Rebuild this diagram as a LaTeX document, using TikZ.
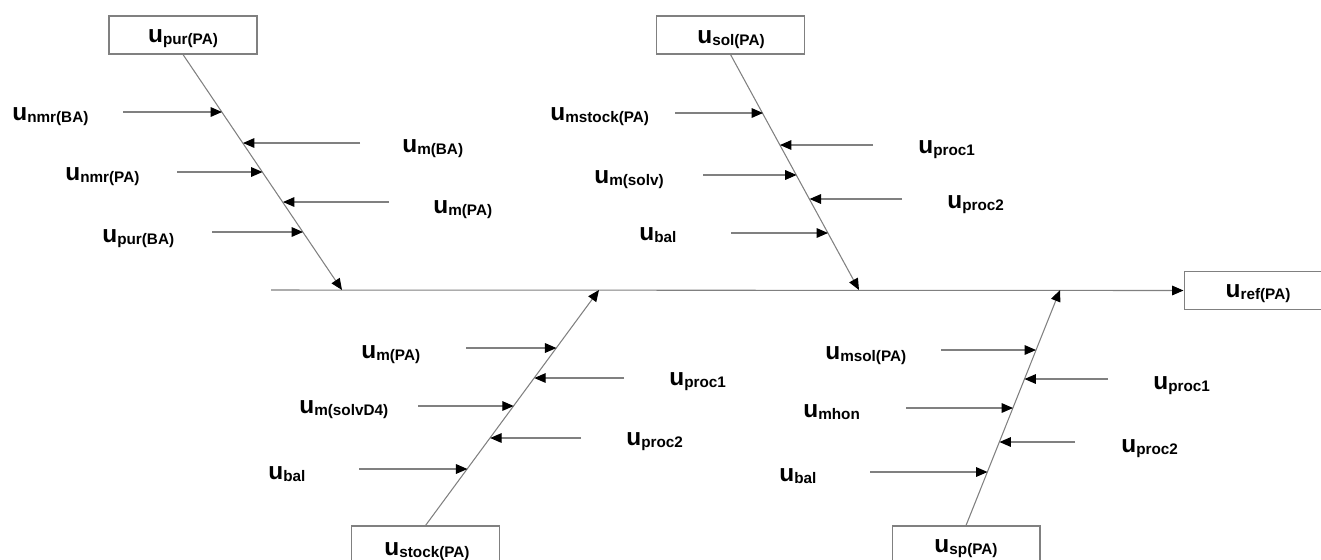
\documentclass[tikz,border=0pt]{standalone}
\usepackage{fontspec}
\setmainfont{Liberation Sans}
\usetikzlibrary{arrows.meta,calc}
\newcommand\ulab[1]{{\fontsize{13.9pt}{14pt}\selectfont u}\raisebox{-1.5pt}{\fontsize{8.7pt}{9pt}\selectfont #1}}
\begin{document}
\begin{tikzpicture}[x=0.02cm,y=-0.02cm,
  line/.style={draw=black!50, line width=0.6pt},
  arr/.style={line, -{Triangle[length=6.5pt,width=5.5pt,color=black]}},
  box/.style={draw=black!50, line width=0.6pt, minimum width=2.96cm, minimum height=0.76cm, inner sep=0pt},
  lab/.style={anchor=base west, inner sep=0pt, font=\bfseries},
  blab/.style={anchor=base, inner sep=0pt, font=\bfseries}]
\useasboundingbox (0,0) rectangle (1321,559);
\clip (0,0) rectangle (1321,559);

% boxes
\node[box] (upur) at (183,35) {};
\node[box] (usol) at (730.5,35) {};
\node[box] (ustock) at (425.5,545) {};
\node[box] (usp) at (966,545) {};
\node[box] (uref) at (1258,290.5) {};
\node[blab] (tupur) at (183,42) {\ulab{pur(PA)}};
\node[blab] (tusol) at (731,43) {\ulab{sol(PA)}};
\node[blab] (tustock) at (427,555) {\ulab{stock(PA)}};
\node[blab] (tusp) at (966,552) {\ulab{sp(PA)}};
\node[blab] (turef) at (1258,297) {\ulab{ref(PA)}};

% spine
\coordinate (s0) at (271,290);
\coordinate (b1) at (342,290);
\coordinate (b2) at (859,290);
\coordinate (b3) at (599,290);
\coordinate (b4) at (1060,290);
\draw[arr] (s0) -- (uref.west);

% bones
\draw[arr] (upur.south) -- (b1);
\draw[arr] (usol.south) -- (b2);
\draw[arr] (ustock.north) -- (b3);
\draw[arr] (usp.north) -- (b4);

% bone 1
\coordinate (a1s) at (123,112); \coordinate (a1e) at (222,112);
\coordinate (a2s) at (360,143); \coordinate (a2e) at (243,143);
\coordinate (a3s) at (177,172); \coordinate (a3e) at (262.5,172);
\coordinate (a4s) at (389,202); \coordinate (a4e) at (283,202);
\coordinate (a5s) at (212,232); \coordinate (a5e) at (303,232);
\draw[arr] (a1s) -- (a1e);
\draw[arr] (a2s) -- (a2e);
\draw[arr] (a3s) -- (a3e);
\draw[arr] (a4s) -- (a4e);
\draw[arr] (a5s) -- (a5e);
\node[lab] (l1) at (12,120) {\ulab{nmr(BA)}};
\node[lab] (l2) at (402,152) {\ulab{m(BA)}};
\node[lab] (l3) at (65,180) {\ulab{nmr(PA)}};
\node[lab] (l4) at (433,213) {\ulab{m(PA)}};
\node[lab] (l5) at (102,242) {\ulab{pur(BA)}};

% bone 2
\coordinate (c1s) at (675,113); \coordinate (c1e) at (763,113);
\coordinate (c2s) at (873,145); \coordinate (c2e) at (780,145);
\coordinate (c3s) at (703,175); \coordinate (c3e) at (796.6,175);
\coordinate (c4s) at (902,199); \coordinate (c4e) at (809.6,199);
\coordinate (c5s) at (731,233); \coordinate (c5e) at (828,233);
\draw[arr] (c1s) -- (c1e);
\draw[arr] (c2s) -- (c2e);
\draw[arr] (c3s) -- (c3e);
\draw[arr] (c4s) -- (c4e);
\draw[arr] (c5s) -- (c5e);
\node[lab] (m1) at (550,120) {\ulab{mstock(PA)}};
\node[lab] (m2) at (918,153) {\ulab{proc1}};
\node[lab] (m3) at (594,183) {\ulab{m(solv)}};
\node[lab] (m4) at (947,208) {\ulab{proc2}};
\node[lab] (m5) at (639,240) {\ulab{bal}};

% bone 3
\coordinate (d1s) at (466,348); \coordinate (d1e) at (556.4,348);
\coordinate (d2s) at (624,378); \coordinate (d2e) at (534.3,378);
\coordinate (d3s) at (418,406); \coordinate (d3e) at (513.7,406);
\coordinate (d4s) at (581,438); \coordinate (d4e) at (490.2,438);
\coordinate (d5s) at (359,469); \coordinate (d5e) at (467.4,469);
\draw[arr] (d1s) -- (d1e);
\draw[arr] (d2s) -- (d2e);
\draw[arr] (d3s) -- (d3e);
\draw[arr] (d4s) -- (d4e);
\draw[arr] (d5s) -- (d5e);
\node[lab] (n1) at (361,358) {\ulab{m(PA)}};
\node[lab] (n2) at (669,385) {\ulab{proc1}};
\node[lab] (n3) at (299,413) {\ulab{m(solvD4)}};
\node[lab] (n4) at (626,445) {\ulab{proc2}};
\node[lab] (n5) at (268,479) {\ulab{bal}};

% bone 4
\coordinate (e1s) at (941,350); \coordinate (e1e) at (1036,350);
\coordinate (e2s) at (1108,379); \coordinate (e2e) at (1024.5,379);
\coordinate (e3s) at (906,408); \coordinate (e3e) at (1013,408);
\coordinate (e4s) at (1075,442); \coordinate (e4e) at (999.5,442);
\coordinate (e5s) at (870,472); \coordinate (e5e) at (987.5,472);
\draw[arr] (e1s) -- (e1e);
\draw[arr] (e2s) -- (e2e);
\draw[arr] (e3s) -- (e3e);
\draw[arr] (e4s) -- (e4e);
\draw[arr] (e5s) -- (e5e);
\node[lab] (o1) at (825,359) {\ulab{msol(PA)}};
\node[lab] (o2) at (1153,389) {\ulab{proc1}};
\node[lab] (o3) at (803,417) {\ulab{mhon}};
\node[lab] (o4) at (1121,452) {\ulab{proc2}};
\node[lab] (o5) at (779,481) {\ulab{bal}};
\end{tikzpicture}
\end{document}
